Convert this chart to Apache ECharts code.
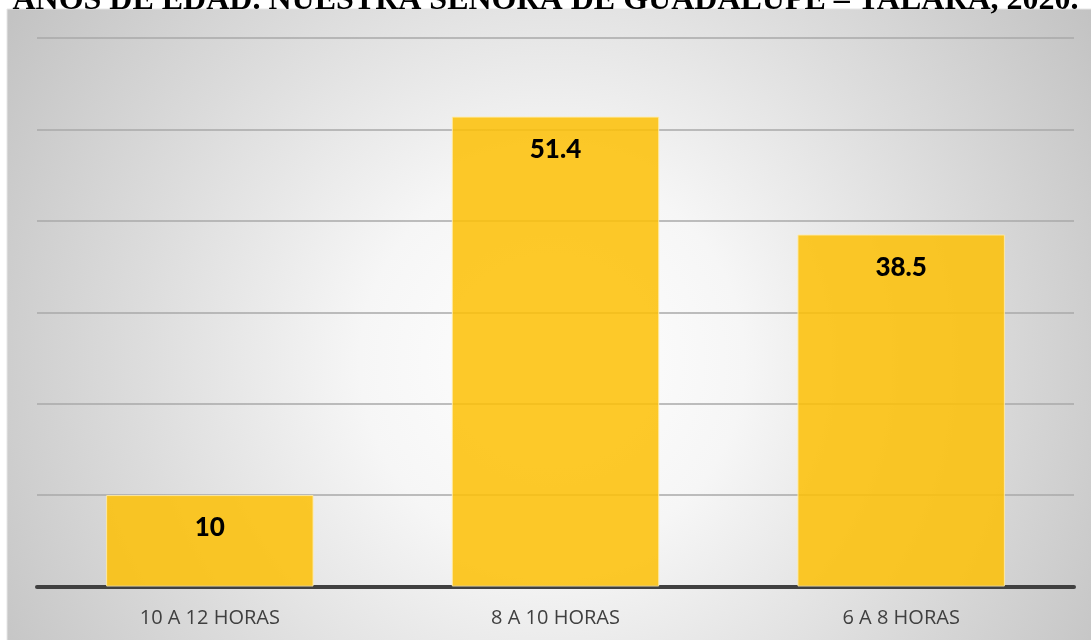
<!DOCTYPE html>
<html>
<head>
<meta charset="utf-8">
<script src="https://cdn.jsdelivr.net/npm/echarts@6/dist/echarts.min.js"></script>
<style>
  html, body { margin: 0; padding: 0; background: #ffffff; }
  #chart { width: 1091px; height: 640px; }
</style>
</head>
<body>
<div id="chart"></div>
<script>
// Horas de sueño: categorías y porcentajes
const categories = ['10 A 12 HORAS', '8 A 10 HORAS', '6 A 8 HORAS'];
const values = [10, 51.4, 38.5];
const titleText = 'AÑOS DE EDAD. NUESTRA SEÑORA DE GUADALUPE – TALARA, 2020.';

const chart = echarts.init(document.getElementById('chart'), null, { renderer: 'canvas' });

chart.setOption({
  backgroundColor: '#ffffff',
  animation: false,
  graphic: [
    {
      type: 'rect',
      z: -10,
      silent: true,
      shape: { x: 7, y: 9, width: 1090, height: 640 },
      style: {
        fill: new echarts.graphic.RadialGradient(0.5, 0.55, 1.0, [
          { offset: 0, color: '#ffffff' },
          { offset: 0.3, color: '#f6f6f6' },
          { offset: 0.65, color: '#dcdcdc' },
          { offset: 1, color: '#c3c3c3' }
        ]),
        stroke: '#e6e6e6',
        lineWidth: 1
      }
    }
  ],
  title: {
    text: titleText,
    left: 'center',
    top: -20,
    textStyle: {
      fontFamily: 'Liberation Serif',
      fontWeight: 'bold',
      fontSize: 32,
      color: '#000000'
    }
  },
  grid: { left: 37, right: 17, top: 38, bottom: 53.5 },
  xAxis: {
    type: 'category',
    data: categories,
    axisTick: { show: false },
    axisLine: { show: true, lineStyle: { color: '#404040', width: 4 } },
    axisLabel: {
      color: '#404040',
      fontFamily: 'Open Sans',
      fontSize: 20,
      margin: 22
    }
  },
  yAxis: {
    type: 'value',
    min: 0,
    max: 60,
    interval: 10,
    axisLabel: { show: false },
    axisLine: { show: false },
    axisTick: { show: false },
    splitLine: { lineStyle: { color: '#a8a8a8', width: 1.5 } }
  },
  series: [
    {
      type: 'bar',
      data: values,
      barWidth: '60%',
      itemStyle: {
        color: 'rgba(253, 192, 6, 0.86)',
        borderColor: 'rgba(255, 236, 170, 0.9)',
        borderWidth: 1
      },
      label: {
        show: true,
        position: 'insideTop',
        distance: 20,
        color: '#000000',
        fontFamily: 'Lato',
        fontWeight: 900,
        fontSize: 26
      }
    }
  ]
});
</script>
</body>
</html>
